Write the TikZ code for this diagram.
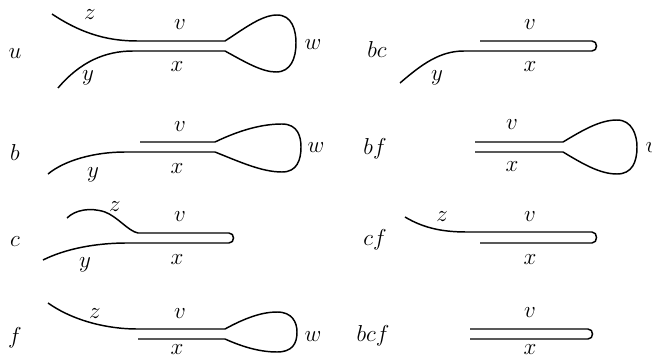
\documentclass[tikz,border=0pt]{standalone}
\usepackage{tikz}

\tikzset{every picture/.style={line width=1.1pt}}
\tikzset{lbl/.style={inner sep=0.75pt,font=\fontsize{16}{19}\selectfont}}

\begin{document}
\begin{tikzpicture}[x=0.75pt,y=0.75pt,yscale=-1,xscale=1]
\useasboundingbox (0,0) rectangle (652,360);

%Curve Lines u
\draw    (52,14) .. controls (85,36) and (112,41) .. (138,41) -- (225,41) .. controls (245,28) and (262,15) .. (277,15) .. controls (292,15) and (296,30) .. (296,43) .. controls (296,58) and (291,72) .. (276,72) .. controls (262,72) and (245,62) .. (225,51) -- (133,51) .. controls (105,51) and (80,62) .. (58,88) ;
%Curve Lines bc
\draw    (480,41) -- (592,41) .. controls (598,41) and (598,51) .. (592,51) -- (464,51) .. controls (440,51) and (422,64) .. (400,83) ;
%Curve Lines b
\draw    (140,142) -- (215,142) .. controls (240,130) and (262,124) .. (282,124) .. controls (298,124) and (301,137) .. (301,147) .. controls (301,160) and (297,172) .. (282,172) .. controls (262,172) and (240,162) .. (215,152) -- (125,152) .. controls (95,152) and (65,160) .. (48,174) ;
%Curve Lines bf
\draw    (475,142) -- (563,142) .. controls (583,130) and (600,120) .. (617,120) .. controls (632,120) and (637,135) .. (637,147) .. controls (637,162) and (632,174) .. (617,174) .. controls (600,174) and (583,164) .. (563,152) -- (475,152) ;
%Curve Lines c
\draw    (67,218) .. controls (75,210) and (90,207) .. (105,212) .. controls (118,217) and (128,231) .. (138,233) -- (229,233) .. controls (235,233) and (235,243) .. (229,243) -- (127,243) .. controls (95,243) and (65,249) .. (43,260) ;
%Curve Lines cf
\draw    (405,217) .. controls (425,229) and (445,232) .. (467,232) -- (592,232) .. controls (598,232) and (598,243) .. (592,243) -- (480,243) ;
%Curve Lines f
\draw    (48,303) .. controls (75,322) and (110,329) .. (137,329) -- (225,329) .. controls (245,318) and (262,312) .. (277,312) .. controls (292,312) and (297,322) .. (297,332) .. controls (297,344) and (292,352) .. (277,352) .. controls (262,352) and (245,348) .. (225,339) -- (138,339) ;
%Curve Lines bcf
\draw    (470,329) -- (588,329) .. controls (594,329) and (594,339) .. (588,339) -- (470,339) ;

% Text Node
\draw (15,54) node [lbl] (nu) {$u$};
% Text Node
\draw (90,15) node [lbl] (uz) {$z$};
% Text Node
\draw (180,25) node [lbl] (uv) {$v$};
% Text Node
\draw (313,45) node [lbl] (uw) {$w$};
% Text Node
\draw (88,78) node [lbl] (uy) {$y$};
% Text Node
\draw (177,67) node [lbl] (ux) {$x$};

% Text Node
\draw (377,50) node [lbl] (nbc) {$bc$};
% Text Node
\draw (530,25) node [lbl] (bcv) {$v$};
% Text Node
\draw (530,67) node [lbl] (bcx) {$x$};
% Text Node
\draw (437,78) node [lbl] (bcy) {$y$};

% Text Node
\draw (15,152) node [lbl] (nb) {$b$};
% Text Node
\draw (180,127) node [lbl] (bv) {$v$};
% Text Node
\draw (316,148) node [lbl] (bw) {$w$};
% Text Node
\draw (93,175) node [lbl] (by) {$y$};
% Text Node
\draw (177,169) node [lbl] (bx) {$x$};

% Text Node
\draw (375,149) node [lbl] (nbf) {$bf$};
% Text Node
\draw (512,125) node [lbl] (bfv) {$v$};
% Text Node
\draw (512,167) node [lbl] (bfx) {$x$};
% Text Node
\draw (654,148) node [lbl] (bfw) {$w$};

% Text Node
\draw (15,242) node [lbl] (nc) {$c$};
% Text Node
\draw (115,207) node [lbl] (cz) {$z$};
% Text Node
\draw (180,217) node [lbl] (cv) {$v$};
% Text Node
\draw (85,265) node [lbl] (cy) {$y$};
% Text Node
\draw (177,260) node [lbl] (cx) {$x$};

% Text Node
\draw (375,240) node [lbl] (ncf) {$cf$};
% Text Node
\draw (442,217) node [lbl] (cfz) {$z$};
% Text Node
\draw (530,217) node [lbl] (cfv) {$v$};
% Text Node
\draw (530,260) node [lbl] (cfx) {$x$};

% Text Node
\draw (15,338) node [lbl] (nf) {$f$};
% Text Node
\draw (95,314) node [lbl] (fz) {$z$};
% Text Node
\draw (180,314) node [lbl] (fv) {$v$};
% Text Node
\draw (313,337) node [lbl] (fw) {$w$};
% Text Node
\draw (177,350) node [lbl] (fx) {$x$};

% Text Node
\draw (373,336) node [lbl] (nbcf) {$bcf$};
% Text Node
\draw (530,313) node [lbl] (bcfv) {$v$};
% Text Node
\draw (530,350) node [lbl] (bcfx) {$x$};

\end{tikzpicture}
\end{document}
